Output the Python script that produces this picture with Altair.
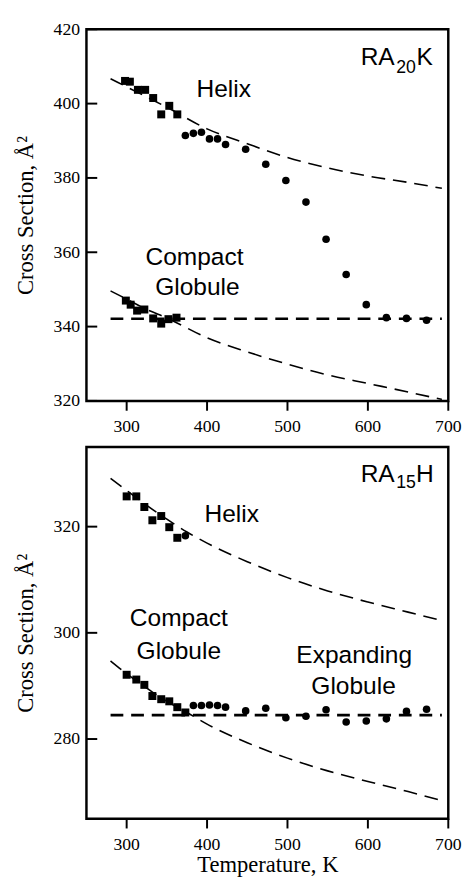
import altair as alt
import pandas as pd

# ---------------- data ----------------
# Top panel: RA20K
top_helix_sq_T = [298, 304, 314, 323, 333, 343, 353, 363]
top_helix_sq_cs = [406.1, 405.9, 403.7, 403.7, 401.5, 397.1, 399.4, 397.1]
top_glob_sq_T = [299, 305, 313, 322, 333, 343, 352, 362]
top_glob_sq_cs = [347.0, 345.9, 344.3, 344.6, 342.2, 340.8, 342.0, 342.4]
top_circ_T = [373, 383, 393, 403, 413, 423, 448, 473, 498, 523, 548, 573, 598, 623, 648, 673]
top_circ_cs = [391.4, 392.0, 392.3, 390.5, 390.5, 389.0, 387.7, 383.7, 379.3, 373.5,
               363.5, 354.0, 345.9, 342.4, 342.2, 341.7]
top_helix_fit_T = [280, 300, 350, 400, 450, 500, 550, 600, 650, 692]
top_helix_fit_cs = [406.7, 404.5, 399.0, 393.2, 389.2, 385.5, 382.7, 380.5, 378.8, 377.2]
top_glob_fit_T = [280, 300, 325, 350, 400, 450, 500, 550, 600, 650, 692]
top_glob_fit_cs = [349.6, 347.4, 344.6, 342.3, 337.0, 333.2, 329.9, 327.0, 324.7, 322.4, 320.4]
top_flat_T = [280, 692]
top_flat_cs = [342.1, 342.1]

# Bottom panel: RA15H
bot_helix_sq_T = [300, 312, 322, 332, 343, 353, 363]
bot_helix_sq_cs = [325.7, 325.7, 323.7, 321.2, 322.0, 319.9, 317.9]
bot_helix_circ_T = [373]
bot_helix_circ_cs = [318.3]
bot_glob_sq_T = [300, 312, 322, 332, 343, 353, 363, 373]
bot_glob_sq_cs = [292.1, 291.2, 290.2, 288.1, 287.5, 287.1, 286.0, 285.0]
bot_circ_T = [383, 393, 403, 413, 423, 448, 473, 498, 523, 548, 573, 598, 623, 648, 673]
bot_circ_cs = [286.3, 286.3, 286.4, 286.3, 286.0, 285.3, 285.8, 284.0, 284.3, 285.5,
               283.2, 283.4, 283.8, 285.2, 285.6]
bot_helix_fit_T = [280, 300, 325, 350, 375, 400, 450, 500, 550, 600, 650, 692]
bot_helix_fit_cs = [329.1, 326.8, 324.0, 321.4, 319.0, 316.9, 313.4, 310.4, 307.9, 305.8, 303.9, 302.3]
bot_glob_fit_T = [280, 300, 325, 350, 375, 400, 450, 500, 550, 600, 650, 692]
bot_glob_fit_cs = [294.7, 292.3, 289.6, 287.1, 285.0, 282.8, 279.3, 276.4, 274.0, 272.0, 270.1, 268.4]
bot_flat_T = [280, 692]
bot_flat_cs = [284.5, 284.5]

# tick values / labels
x_ticks = [300, 400, 500, 600, 700]
x_tick_labels = ["300", "400", "500", "600", "700"]
top_y_ticks = [320, 340, 360, 380, 400, 420]
bot_y_ticks = [280, 300, 320]

# annotations
top_labels = ["RA", "K", "Helix", "Compact", "Globule"]
top_labels_T = [612.2, 670.7, 420.7, 384.4, 388.0]
top_labels_cs = [410.5, 410.5, 401.7, 356.6, 348.5]
top_sub = ["20"]
top_sub_T = [647.5]
top_sub_cs = [408.3]

bot_labels = ["RA", "H", "Helix", "Compact", "Globule", "Expanding", "Globule"]
bot_labels_T = [612.2, 670.7, 430.7, 364.9, 364.9, 583.0, 582.2]
bot_labels_cs = [328.5, 328.5, 320.8, 301.2, 295.0, 294.4, 288.5]
bot_sub = ["15"]
bot_sub_T = [647.5]
bot_sub_cs = [327.3]

Y_TITLE = "Cross Section, Å²"
X_TITLE = "Temperature, K"
SERIF = "Liberation Serif"
SANS = "Liberation Sans"
W, H = 369, 379


def df(T, cs, **extra):
    d = pd.DataFrame({"T": T, "cs": cs})
    for k, v in extra.items():
        d[k] = v
    return d


def panel(domain_y, y_ticks, helix_sq, glob_sq, circles, fits, flat,
          labels, sub, show_x_title, extra_circles=None):
    xax = alt.Axis(values=x_ticks, ticks=False, labels=False, domain=False, grid=False,
                   titleFont=SERIF, titleFontSize=23, titleFontWeight="normal",
                   titleColor="black", titlePadding=36)
    yax = alt.Axis(values=y_ticks, ticks=False, labelFont=SERIF, labelFontSize=18,
                   labelColor="black", labelPadding=7, domain=False, grid=False,
                   titleFont=SERIF, titleFontSize=23, titleFontWeight="normal",
                   titleColor="black", titlePadding=16)
    xs = alt.Scale(domain=[250, 700], nice=False, zero=False)
    ys = alt.Scale(domain=domain_y, nice=False, zero=False)
    if show_x_title:
        X = alt.X("T:Q", scale=xs, axis=xax, title=X_TITLE)
    else:
        X = alt.X("T:Q", scale=xs, axis=xax, title=None)
    Y = alt.Y("cs:Q", scale=ys, axis=yax, title=Y_TITLE)

    fit_df = pd.concat([df(t, c, s=str(i)) for i, (t, c) in enumerate(fits)])
    layers = [
        alt.Chart(fit_df).mark_line(color="black", strokeWidth=1.6, strokeDash=[14, 8],
                                    interpolate="monotone").encode(x=X, y=Y, detail="s:N"),
        alt.Chart(df(*flat)).mark_line(color="black", strokeWidth=2.6,
                                       strokeDash=[13, 8]).encode(x=X, y=Y),
        alt.Chart(pd.concat([df(*helix_sq), df(*glob_sq)])).mark_point(
            shape="square", filled=True, size=66, color="black", opacity=1).encode(x=X, y=Y),
        alt.Chart(df(*circles)).mark_circle(size=60, color="black", opacity=1).encode(x=X, y=Y),
    ]
    if extra_circles is not None:
        layers.append(alt.Chart(df(*extra_circles)).mark_circle(
            size=60, color="black", opacity=1).encode(x=X, y=Y))
    tick_df = pd.DataFrame({"T": x_ticks, "lab": x_tick_labels})
    layers += [
        # inward y ticks
        alt.Chart(pd.DataFrame({"cs": y_ticks})).mark_rule(color="black", strokeWidth=2).encode(
            y=Y, x=alt.value(0), x2=alt.value(11)),
        # outward x ticks
        alt.Chart(tick_df).mark_rule(color="black", strokeWidth=2).encode(
            x=X, y=alt.value(H), y2=alt.value(H + 10)),
        # x tick labels
        alt.Chart(tick_df).mark_text(font=SERIF, fontSize=18, color="black", align="center",
                                     baseline="top").encode(
            x=X, y=alt.value(H + 18), text="lab:N"),
        alt.Chart(df(labels[1], labels[2], t=labels[0])).mark_text(
            font=SANS, fontSize=25, color="black", align="center",
            baseline="alphabetic").encode(x=X, y=Y, text="t:N"),
        alt.Chart(df(sub[1], sub[2], t=sub[0])).mark_text(
            font=SANS, fontSize=18, color="black", align="center",
            baseline="alphabetic").encode(x=X, y=Y, text="t:N"),
    ]
    return alt.layer(*layers).properties(width=W, height=H)


top = panel([320, 420], top_y_ticks,
            (top_helix_sq_T, top_helix_sq_cs), (top_glob_sq_T, top_glob_sq_cs),
            (top_circ_T, top_circ_cs),
            [(top_helix_fit_T, top_helix_fit_cs), (top_glob_fit_T, top_glob_fit_cs)],
            (top_flat_T, top_flat_cs),
            (top_labels, top_labels_T, top_labels_cs),
            (top_sub, top_sub_T, top_sub_cs), False)

bottom = panel([265, 335], bot_y_ticks,
               (bot_helix_sq_T, bot_helix_sq_cs), (bot_glob_sq_T, bot_glob_sq_cs),
               (bot_circ_T, bot_circ_cs),
               [(bot_helix_fit_T, bot_helix_fit_cs), (bot_glob_fit_T, bot_glob_fit_cs)],
               (bot_flat_T, bot_flat_cs),
               (bot_labels, bot_labels_T, bot_labels_cs),
               (bot_sub, bot_sub_T, bot_sub_cs), True,
               extra_circles=(bot_helix_circ_T, bot_helix_circ_cs))

chart = alt.vconcat(top, bottom, spacing=7).properties(
    padding={"left": 5, "top": 2, "right": 0, "bottom": 0}
).configure(background="white").configure_view(stroke="black", strokeWidth=2.5)

chart.save("out.html", embed_options={"renderer": "svg", "actions": False})
